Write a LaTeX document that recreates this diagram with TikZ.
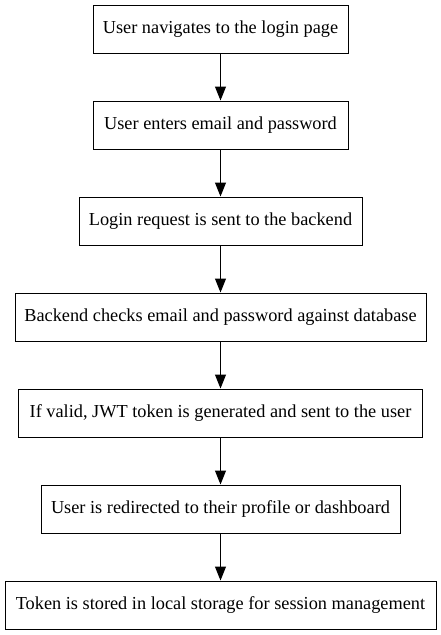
\documentclass[tikz,border=0pt]{standalone}
\usepackage{fontspec}
\setmainfont{Liberation Serif}
\usetikzlibrary{arrows.meta}
\begin{document}
\begin{tikzpicture}[x=1pt,y=-1pt,
  box/.style={draw, line width=1pt, minimum height=48pt, inner sep=0pt, font=\fontsize{18.3}{20}\selectfont},
  arr/.style={-{Triangle[length=14pt,width=11pt]}, line width=1pt}]
\useasboundingbox (0,0) rectangle (441,635);
\node[box, minimum width=255pt] (n1) at (220.5,29) {User navigates to the login page};
\node[box, minimum width=255pt] (n2) at (220.5,125) {User enters email and password};
\node[box, minimum width=283pt] (n3) at (220.5,221) {Login request is sent to the backend};
\node[box, minimum width=411pt] (n4) at (220.5,317) {Backend checks email and password against database};
\node[box, minimum width=404pt] (n5) at (220.5,413) {If valid, JWT token is generated and sent to the user};
\node[box, minimum width=359pt] (n6) at (220.5,509) {User is redirected to their profile or dashboard};
\node[box, minimum width=431pt] (n7) at (220.5,605) {Token is stored in local storage for session management};
\draw[arr] (n1) -- (n2);
\draw[arr] (n2) -- (n3);
\draw[arr] (n3) -- (n4);
\draw[arr] (n4) -- (n5);
\draw[arr] (n5) -- (n6);
\draw[arr] (n6) -- (n7);
\end{tikzpicture}
\end{document}
